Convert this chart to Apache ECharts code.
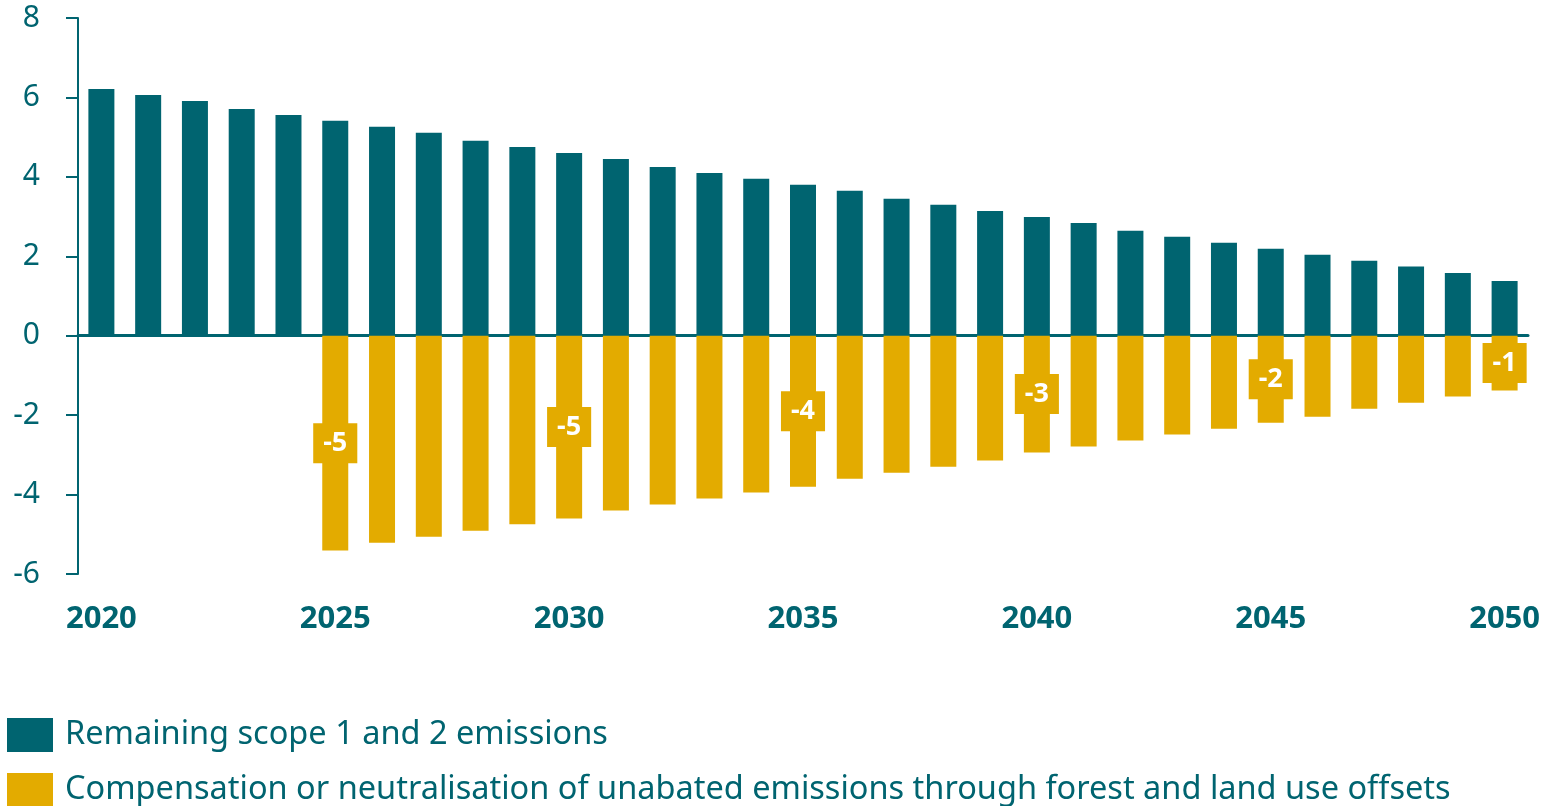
<!DOCTYPE html>
<html>
<head>
<meta charset="utf-8">
<style>html,body{margin:0;padding:0;background:#fff;}#main{width:1550px;height:806px;}</style>
<script src="https://cdn.jsdelivr.net/npm/echarts@6/dist/echarts.min.js"></script>
</head>
<body>
<div id="main"></div>
<script>
const years = [2020,2021,2022,2023,2024,2025,2026,2027,2028,2029,2030,2031,2032,2033,2034,2035,2036,2037,2038,2039,2040,2041,2042,2043,2044,2045,2046,2047,2048,2049,2050];
const remaining = [6.21,6.06,5.91,5.71,5.56,5.41,5.26,5.11,4.91,4.75,4.6,4.45,4.25,4.1,3.95,3.8,3.65,3.45,3.3,3.14,2.99,2.84,2.64,2.49,2.34,2.19,2.04,1.89,1.74,1.58,1.38];
const compensation = [null,null,null,null,null,-5.41,-5.21,-5.06,-4.91,-4.75,-4.6,-4.4,-4.25,-4.1,-3.95,-3.8,-3.6,-3.45,-3.3,-3.14,-2.94,-2.79,-2.64,-2.49,-2.34,-2.19,-2.04,-1.84,-1.69,-1.53,-1.38];
const labelledYears = [2025,2030,2035,2040,2045,2050];
const seriesNames = ['Remaining scope 1 and 2 emissions','Compensation or neutralisation of unabated emissions through forest and land use offsets'];
const yTicks = {min:-6, max:8, interval:2};

const TEAL = '#006470';
const GOLD = '#E3AB00';
const FONT = 'Noto Sans';

const compData = compensation.map((v,i) => ({
  value: v,
  label: {show: labelledYears.includes(years[i])}
}));

const legendBase = {
  orient: 'vertical', left: 7, padding: 0,
  itemWidth: 46, itemHeight: 34, itemGap: 21,
  icon: 'rect', selectedMode: false,
  textStyle: {fontSize: 32.5, color: TEAL, fontFamily: FONT, padding: [0,0,0,7]}
};

const chart = echarts.init(document.getElementById('main'));
chart.setOption({
  animation: false,
  textStyle: {fontFamily: FONT},
  grid: {left: 78, right: 22, top: 18, bottom: 232, containLabel: false},
  legend: [
    Object.assign({}, legendBase, {top: 718, data: [seriesNames[0]]}),
    Object.assign({}, legendBase, {top: 773, data: [seriesNames[1]]})
  ],
  xAxis: [{
    type: 'category', data: years, position: 'bottom',
    axisLine: {show: false, onZero: false}, axisTick: {show: false},
    axisLabel: {interval: 4, margin: 30, fontSize: 31, fontWeight: 'bold', color: TEAL, fontFamily: FONT}
  }, {
    type: 'category', data: years, position: 'bottom',
    axisLine: {show: true, onZero: true, lineStyle: {color: TEAL, width: 3}},
    axisTick: {show: false}, axisLabel: {show: false}
  }],
  yAxis: {
    type: 'value', min: yTicks.min, max: yTicks.max, interval: yTicks.interval,
    axisLine: {show: true, lineStyle: {color: TEAL, width: 2}},
    axisTick: {show: true, length: 12, lineStyle: {color: TEAL, width: 2}},
    splitLine: {show: false},
    axisLabel: {margin: 38, fontSize: 30, color: TEAL, fontFamily: FONT}
  },
  series: [{
    name: seriesNames[0], type: 'bar', stack: 'a', data: remaining,
    barWidth: 26, itemStyle: {color: TEAL}
  }, {
    name: seriesNames[1], type: 'bar', stack: 'a', data: compData,
    barWidth: 26, itemStyle: {color: GOLD},
    label: {
      show: false, position: 'inside',
      formatter: p => String(Math.round(p.value)),
      color: '#fff', fontWeight: 'bold', fontSize: 27, fontFamily: FONT,
      backgroundColor: GOLD, padding: [7, 10, 7, 10], lineHeight: 26
    }
  }]
});
</script>
</body>
</html>
